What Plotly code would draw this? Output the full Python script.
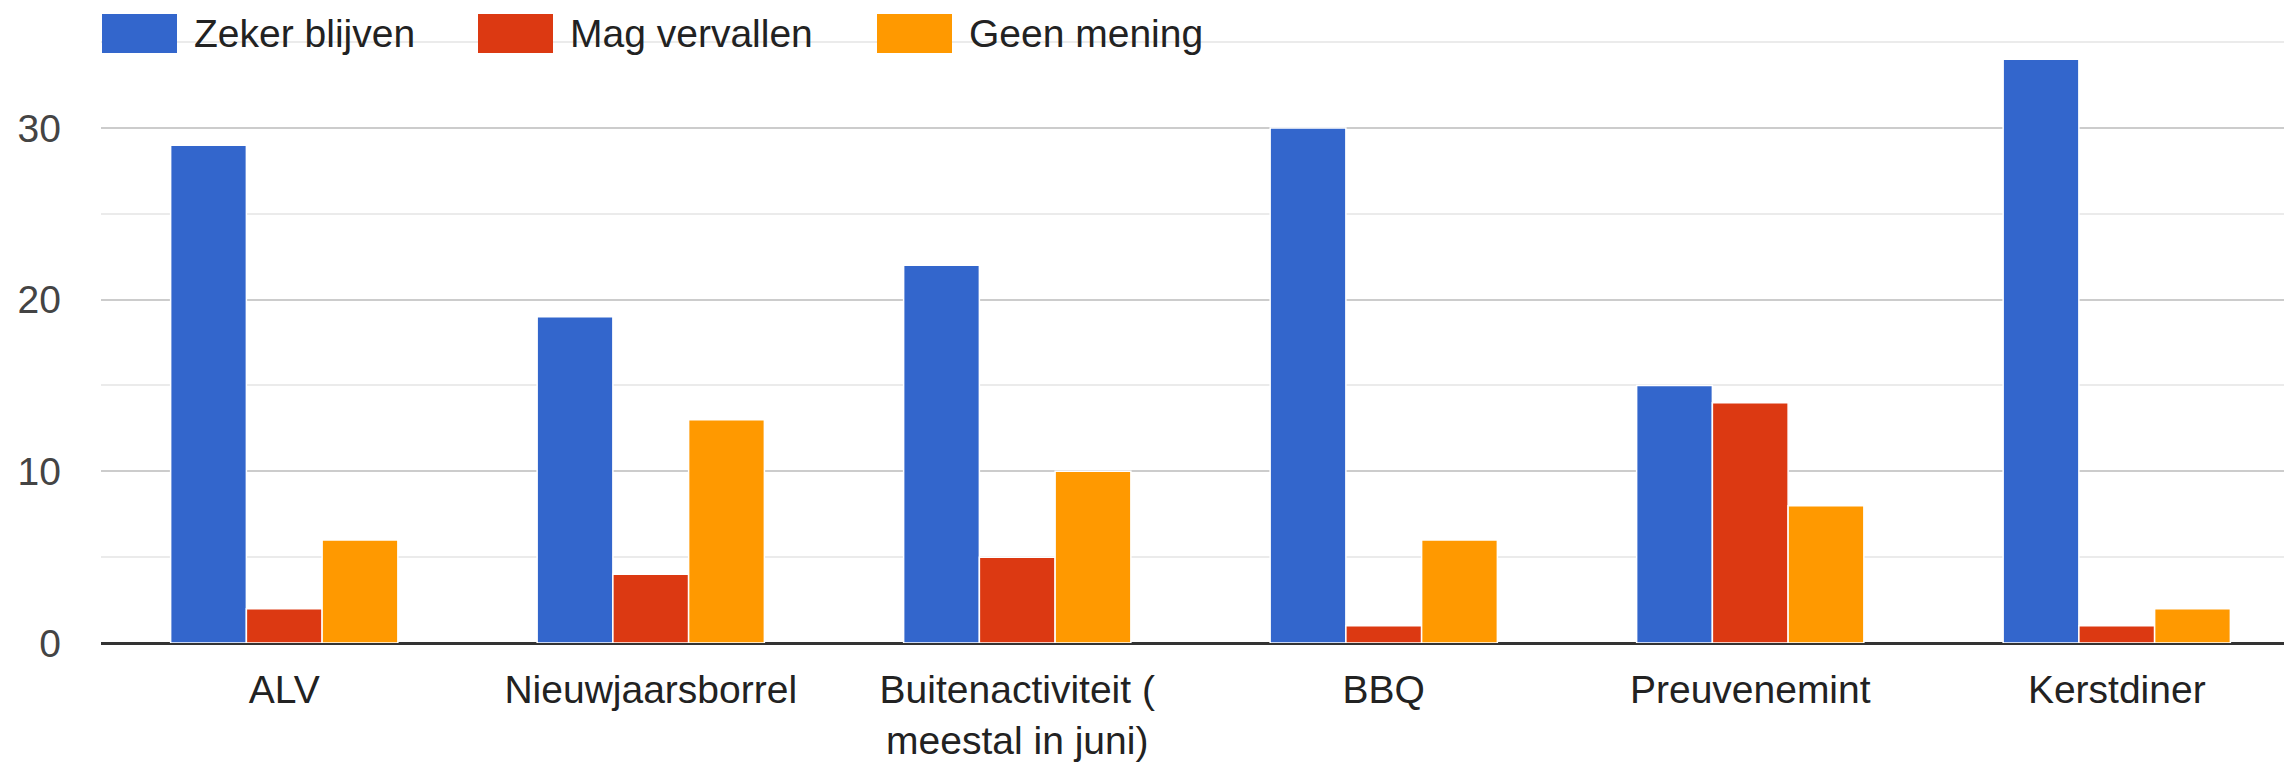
import plotly.graph_objects as go

categories = ["ALV", "Nieuwjaarsborrel", "Buitenactiviteit (<br>meestal in juni)", "BBQ", "Preuvenemint", "Kerstdiner"]
zeker_blijven = [29, 19, 22, 30, 15, 34]
mag_vervallen = [2, 4, 5, 1, 14, 1]
geen_mening = [6, 13, 10, 6, 8, 2]
series_names = ["Zeker blijven", "Mag vervallen", "Geen mening"]
series_colors = ["#3366cc", "#dc3912", "#ff9900"]
y_ticks = [0, 10, 20, 30]
y_minor_ticks = [5, 15, 25, 35]

W, H = 2292, 771
OFF = 8  # page body margin offset
# desired plot area in page coordinates: left 101, right ~2300, top 37, bottom 643
L = 101 - OFF
T = 37 - OFF
R = 0
B = H - (643 - OFF)
pw, ph = W - L - R, H - T - B

def px(x):  # page x -> paper
    return (x - OFF - L) / pw

def py(y):  # page y -> paper
    return (H - B - (y - OFF)) / ph

fig = go.Figure()
for name, vals, color in zip(series_names, [zeker_blijven, mag_vervallen, geen_mening], series_colors):
    fig.add_trace(go.Bar(
        x=categories, y=vals, name=name, showlegend=False,
        marker=dict(color=color, line=dict(color="white", width=1.5)),
    ))

# manual legend (large swatches like the original)
legend_x = [102, 478, 877]
shapes, annots = [], []
for name, color, x0 in zip(series_names, series_colors, legend_x):
    shapes.append(dict(type="rect", xref="paper", yref="paper",
                       x0=px(x0), x1=px(x0 + 75), y0=py(53), y1=py(14),
                       fillcolor=color, line=dict(width=0), layer="above"))
    annots.append(dict(xref="paper", yref="paper", x=px(x0 + 90), y=py(33.5),
                       xanchor="left", yanchor="middle", showarrow=False,
                       text=name, font=dict(size=39, color="#222222")))

fig.update_layout(
    width=W, height=H,
    margin=dict(l=L, r=R, t=T, b=B),
    paper_bgcolor="white", plot_bgcolor="white",
    barmode="group", bargap=0.38, bargroupgap=0.0,
    font=dict(family="Liberation Sans, Arial, sans-serif", size=39, color="#222222"),
    showlegend=False,
    shapes=shapes, annotations=annots,
)
fig.update_xaxes(
    showgrid=False, showline=False, ticks="", automargin=False,
    tickfont=dict(size=39, color="#222222"),
    ticklabelstandoff=20,
)
fig.update_yaxes(
    range=[0, 35.3], tickvals=y_ticks, showline=False, ticks="", automargin=False,
    gridcolor="#cccccc", gridwidth=2,
    zeroline=True, zerolinecolor="#333333", zerolinewidth=3,
    tickfont=dict(size=39, color="#444444"),
    ticklabelstandoff=39,
    minor=dict(tickvals=y_minor_ticks, showgrid=True, gridcolor="#ebebeb", gridwidth=2, ticks=""),
)

fig.write_html("out.html")
